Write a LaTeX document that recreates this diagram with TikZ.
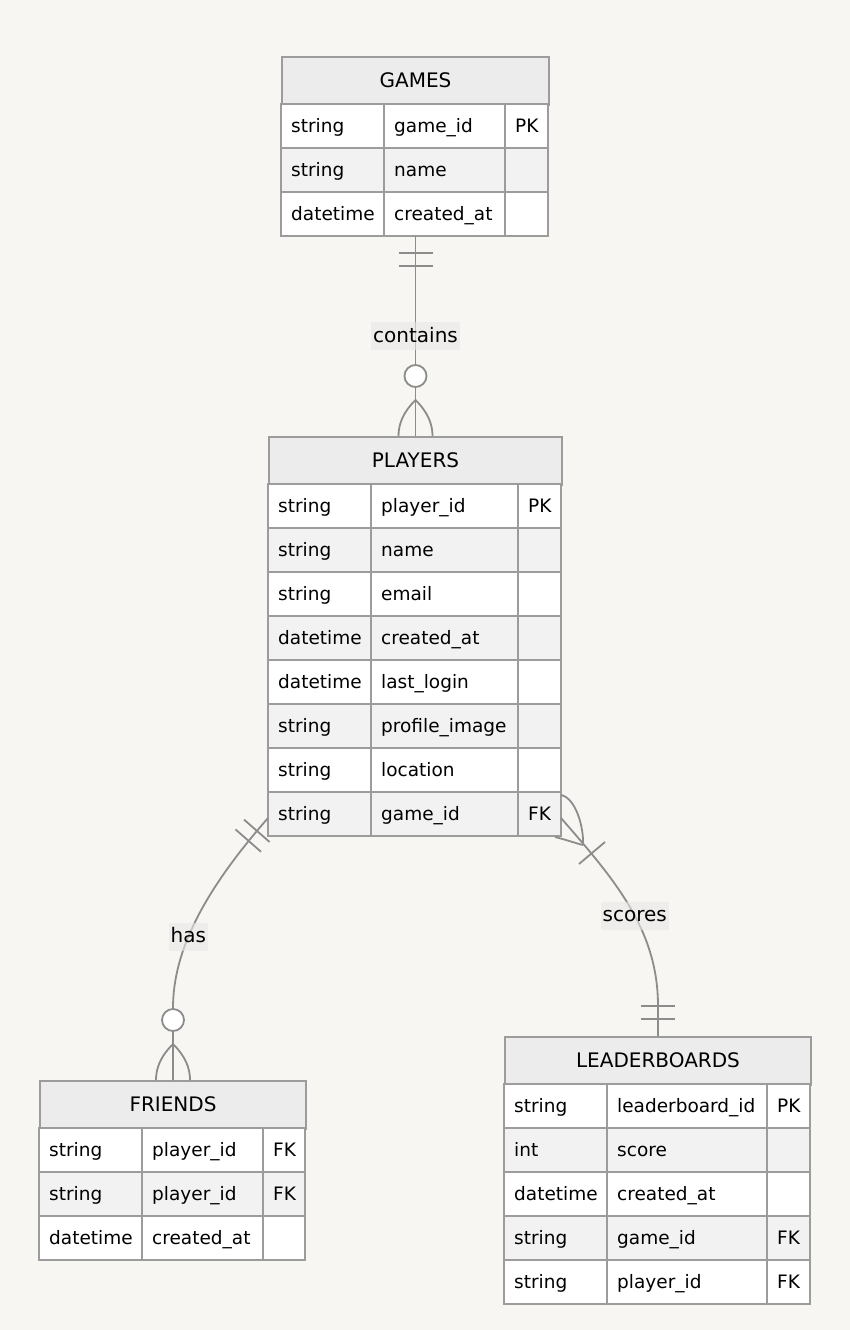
\documentclass[tikz,border=0pt]{standalone}
\usepackage{fontspec}
\setmainfont{DejaVu Sans}
\usepackage{xcolor}
\usetikzlibrary{calc}

\definecolor{bgcol}{HTML}{F7F6F3}
\definecolor{headgray}{HTML}{ECECEC}
\definecolor{rowgray}{HTML}{F2F2F2}
\definecolor{gridgray}{HTML}{9C9C9C}
\definecolor{linegray}{HTML}{8C8C8C}
\definecolor{labelbg}{HTML}{E8E8E8}

\tikzset{
  tablehead/.style={draw=gridgray, fill=headgray, line width=2pt, minimum height=48pt,
    inner sep=0pt, text height=12pt, text depth=0pt, font=\fontsize{20}{24}\selectfont},
  celltext/.style={anchor=base west, inner sep=0pt, font=\fontsize{18.5}{22}\selectfont},
  gridline/.style={draw=gridgray, line width=2pt},
  relline/.style={draw=linegray, line width=1.8pt},
  rellabel/.style={fill=labelbg, fill opacity=0.6, text opacity=1, inner xsep=2pt, inner ysep=4pt,
    text height=16pt, text depth=4pt, font=\fontsize{20}{24}\selectfont},
  onlyone/.pic={\draw[relline] (17,-17) -- (17,17) (30,-17) -- (30,17);},
  zeromany/.pic={
    \draw[relline] (0,-17) .. controls (18,-17) and (30,-6) .. (36,0)
                   (0,17) .. controls (18,17) and (30,6) .. (36,0);
    \draw[relline, fill=white] (60,0) circle (11pt);}
}

% #1 name, #2 left, #3 top, #4 second column, #5 key column, #6 right, #7 title, #8 rows
\newcommand{\ertable}[8]{%
  \node[tablehead, anchor=north west, minimum width={#6pt-#2pt}] (#1) at (#2,#3) {#7};
  \foreach \ty/\nm/\ky [count=\i] in {#8} {
    \pgfmathsetmacro{\rtop}{#3+48+44*(\i-1)}
    \ifodd\i\def\rowcol{white}\else\def\rowcol{rowgray}\fi
    \filldraw[gridline, fill=\rowcol] (#2,\rtop) rectangle (#6,\rtop+44);
    \draw[gridline] (#4,\rtop) -- (#4,\rtop+44) (#5,\rtop) -- (#5,\rtop+44);
    \node[celltext] (#1-t\i) at (#2+10,\rtop+28) {\ty};
    \node[celltext] (#1-n\i) at (#4+10,\rtop+28) {\nm};
    \node[celltext] (#1-k\i) at (#5+10,\rtop+28) {\ky};
    \coordinate (#1-l\i) at (#2,\rtop+22);
    \coordinate (#1-r\i) at (#6,\rtop+22);
    \coordinate (#1-bot) at (#2,\rtop+44);
  }
}

\begin{document}
\begin{tikzpicture}[x=1pt,y=-1pt]
  \fill[bgcol] (0,0) rectangle (850,1330);
  \useasboundingbox (0,0) rectangle (850,1330);

  % entities
  \ertable{games}{281}{56}{384}{505}{548}{GAMES}
    {string/game\_id/PK, string/name/, datetime/created\_at/}
  \ertable{players}{268}{436}{371}{518}{561}{PLAYERS}
    {string/player\_id/PK, string/name/, string/email/, datetime/created\_at/,
     datetime/last\_login/, string/profile\_image/, string/location/, string/game\_id/FK}
  \ertable{friends}{39}{1080}{142}{263}{305}{FRIENDS}
    {string/player\_id/FK, string/player\_id/FK, datetime/created\_at/}
  \ertable{leaderboards}{504}{1036}{607}{767}{810}{LEADERBOARDS}
    {string/leaderboard\_id/PK, int/score/, datetime/created\_at/, string/game\_id/FK,
     string/player\_id/FK}

  % relationships
  \coordinate (has-start) at ($(players-l8)+(0,4)$);
  \coordinate (scores-start) at ($(players-r8)+(0,4)$);

  \draw[relline] (games.south |- games-bot) -- node[rellabel] (lcontains) {contains} (players.north);
  \draw[relline] (has-start) .. controls +(-63,72) and +(0,-58) .. node[rellabel, pos=0.6] (lhas) {has}
    ($(friends.north)+(0,-72)$) -- (friends.north);
  \draw[relline] (scores-start) .. controls +(54,62) and +(0,-76) .. node[rellabel, pos=0.55] (lscores) {scores}
    ($(leaderboards.north)+(0,-30)$) -- (leaderboards.north);

  % cardinality marks
  \pic[rotate=-90] at (games.south |- games-bot) {onlyone};
  \pic[rotate=90] at (players.north) {zeromany};
  \pic[rotate=228.8] at (has-start) {onlyone};
  \pic[rotate=90] at (friends.north) {zeromany};
  \pic[rotate=90] at (leaderboards.north) {onlyone};
  \begin{scope}[shift={(scores-start)}]
    \draw[relline] (0,-23) .. controls (15,-20) and (23,10) .. (22,27);
    \draw[relline] (-6,19) .. controls (6,22) and (14,25) .. (22,27);
    \draw[relline] (18,46) -- (44,24);
  \end{scope}
\end{tikzpicture}
\end{document}
